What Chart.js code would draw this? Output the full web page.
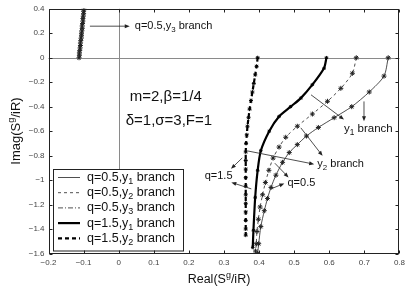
<!DOCTYPE html>
<html><head><meta charset="utf-8">
<script src="https://cdn.jsdelivr.net/npm/chart.js@4"></script>
<style>html,body{margin:0;padding:0;background:#fff}#wrap{width:409px;height:289px}</style>
</head><body><div id="wrap"><canvas id="c" width="409" height="289"></canvas></div>
<script>
// ---- tick labels ----
const xTickValues = [-0.2,-0.1,0,0.1,0.2,0.3,0.4,0.5,0.6,0.7,0.8];
const yTickValues = [-1.6,-1.4,-1.2,-1,-0.8,-0.6,-0.4,-0.2,0,0.2,0.4];

// ---- series ----
const q05y1X = [0.768,0.756,0.714,0.664,0.614,0.569,0.535,0.509,0.486,0.467,0.448,0.434,0.424,0.415,0.405,0.399,0.396];
const q05y1Y = [0,-0.15,-0.28,-0.40,-0.49,-0.57,-0.64,-0.71,-0.775,-0.855,-0.96,-1.06,-1.15,-1.25,-1.38,-1.52,-1.60];

const q05y2X = [0.677,0.666,0.633,0.595,0.552,0.509,0.476,0.457,0.440,0.428,0.418,0.410,0.403,0.398,0.394,0.392,0.390];
const q05y2Y = [0,-0.127,-0.25,-0.356,-0.46,-0.56,-0.65,-0.73,-0.82,-0.92,-1.02,-1.12,-1.22,-1.32,-1.42,-1.52,-1.58];

const q05y3X = [-0.113,-0.112,-0.112,-0.111,-0.110,-0.109,-0.109,-0.108,-0.107,-0.106,-0.106,-0.105,-0.104,-0.104,-0.103,-0.102,-0.102,-0.101,-0.100,-0.100,-0.099];
const q05y3Y = [0,0.02,0.04,0.06,0.08,0.10,0.12,0.14,0.16,0.18,0.20,0.22,0.24,0.26,0.28,0.30,0.32,0.34,0.36,0.38,0.40];

const q15y1X = [0.592,0.585,0.552,0.519,0.490,0.457,0.429,0.405,0.396,0.389,0.384,0.382];
const q15y1Y = [0,-0.086,-0.22,-0.33,-0.40,-0.48,-0.60,-0.76,-0.92,-1.14,-1.41,-1.55];

const q15y2X = [0.396,0.393,0.389,0.385,0.381,0.377,0.373,0.370,0.367,0.365,0.363,0.362,0.362,0.362,0.362,0.362,0.362,0.362,0.362,0.362,0.362,0.362];
const q15y2Y = [0,-0.07,-0.14,-0.21,-0.28,-0.35,-0.42,-0.49,-0.56,-0.63,-0.70,-0.77,-0.84,-0.91,-0.98,-1.05,-1.12,-1.19,-1.26,-1.33,-1.40,-1.45];

// ---- legend labels ("_" = subscript next char) ----
const legendLabels = ['q=0.5,y_1 branch','q=0.5,y_2 branch','q=0.5,y_3 branch','q=1.5,y_1 branch','q=1.5,y_2 branch'];

// ---- annotations (data units) ----
const noteTexts = ['q=0.5,y_3 branch','m=2,β=1/4','δ=1,σ=3,F=1','y_1 branch','y_2 branch','q=0.5','q=1.5'];
const noteX     = [0.046, 0.0315, 0.020, 0.642, 0.566, 0.481, 0.245];
const noteY     = [0.258, -0.317, -0.519, -0.584, -0.867, -1.021, -0.965];
const noteSize  = [11, 15, 15, 11.5, 11, 11, 11];

const arrowX0 = [-0.082, 0.548, 0.699, 0.519, 0.368, 0.445, 0.434, 0.352, 0.378];
const arrowY0 = [ 0.258,-0.303,-0.357,-0.573,-0.762,-0.862,-1.072,-0.819,-1.072];
const arrowX1 = [ 0.0315,0.642, 0.699, 0.581, 0.557, 0.484, 0.472, 0.320, 0.321];
const arrowY1 = [ 0.258,-0.505,-0.519,-0.802,-0.870,-0.978,-1.027,-0.908,-1.019];

const FONT = '"Liberation Sans", Arial, sans-serif';
const pts = (xs, ys) => xs.map((x, i) => ({x, y: ys[i]}));
const fmt = v => { const a = Math.round(Math.abs(v)*10)/10; return (v < -1e-9 ? '\u2212' : '') + a; };

function drawRich(ctx, str, x, y, size, color) {
  // left aligned, y = middle
  let cx = x;
  ctx.fillStyle = color || '#111';
  ctx.textBaseline = 'middle';
  ctx.textAlign = 'left';
  for (let i = 0; i < str.length; i++) {
    let ch = str[i];
    if ((ch === '_' || ch === '^') && i + 1 < str.length) {
      const s = str[i+1]; i++;
      ctx.font = (size*0.72) + 'px ' + FONT;
      const dy = ch === '_' ? size*0.32 : -size*0.38;
      ctx.fillText(s, cx, y + dy);
      cx += ctx.measureText(s).width;
      continue;
    }
    ctx.font = size + 'px ' + FONT;
    ctx.fillText(ch, cx, y);
    cx += ctx.measureText(ch).width;
  }
  return cx - x;
}
function richWidth(ctx, str, size) {
  let w = 0;
  for (let i = 0; i < str.length; i++) {
    let ch = str[i];
    if ((ch === '_' || ch === '^') && i + 1 < str.length) {
      ctx.font = (size*0.72) + 'px ' + FONT; w += ctx.measureText(str[i+1]).width; i++; continue;
    }
    ctx.font = size + 'px ' + FONT; w += ctx.measureText(ch).width;
  }
  return w;
}

const decor = {
  id: 'decor',
  beforeDatasetsDraw(chart) {
    const {ctx, chartArea: a, scales: {x, y}} = chart;
    ctx.save();
    ctx.strokeStyle = '#8a8a8a'; ctx.lineWidth = 1;
    const x0 = Math.round(x.getPixelForValue(0)) + 0.5;
    const y0 = Math.round(y.getPixelForValue(0)) + 0.5;
    ctx.beginPath();
    ctx.moveTo(x0, a.top); ctx.lineTo(x0, a.bottom);
    ctx.moveTo(a.left, y0); ctx.lineTo(a.right, y0);
    ctx.stroke();
    ctx.restore();
  },
  afterDatasetsDraw(chart) {
    const {ctx, chartArea: a, scales: {x, y}} = chart;
    ctx.save();
    // arrows
    ctx.strokeStyle = '#222'; ctx.fillStyle = '#222'; ctx.lineWidth = 0.8;
    for (let i = 0; i < arrowX0.length; i++) {
      const px0 = x.getPixelForValue(arrowX0[i]), py0 = y.getPixelForValue(arrowY0[i]);
      const px1 = x.getPixelForValue(arrowX1[i]), py1 = y.getPixelForValue(arrowY1[i]);
      const ang = Math.atan2(py1 - py0, px1 - px0);
      const L = 5, W = 2;
      ctx.beginPath(); ctx.moveTo(px0, py0);
      ctx.lineTo(px1 - L*Math.cos(ang)*0.8, py1 - L*Math.sin(ang)*0.8); ctx.stroke();
      ctx.beginPath();
      ctx.moveTo(px1, py1);
      ctx.lineTo(px1 - L*Math.cos(ang) + W*Math.sin(ang), py1 - L*Math.sin(ang) - W*Math.cos(ang));
      ctx.lineTo(px1 - L*Math.cos(ang) - W*Math.sin(ang), py1 - L*Math.sin(ang) + W*Math.cos(ang));
      ctx.closePath(); ctx.fill();
    }
    // notes
    for (let i = 0; i < noteTexts.length; i++) {
      drawRich(ctx, noteTexts[i], x.getPixelForValue(noteX[i]), y.getPixelForValue(noteY[i]), noteSize[i], '#111');
    }
    // legend box
    const lx = 53.5, ly = 169.5, lw = 130, lh = 81.5;
    ctx.fillStyle = '#fff'; ctx.fillRect(lx, ly, lw, lh);
    ctx.strokeStyle = '#222'; ctx.lineWidth = 1; ctx.strokeRect(lx, ly, lw, lh);
    chart.data.datasets.forEach((ds, i) => {
      const cy = 177.5 + i*15.2;
      ctx.save();
      ctx.strokeStyle = ds.borderColor; ctx.lineWidth = ds.borderWidth;
      ctx.setLineDash(ds.borderDash || []);
      ctx.beginPath(); ctx.moveTo(58, cy); ctx.lineTo(80, cy); ctx.stroke();
      ctx.restore();
      drawRich(ctx, legendLabels[i], 87, cy, 12.5, '#111');
    });
    // frame
    ctx.strokeStyle = '#222'; ctx.lineWidth = 1;
    const L = Math.round(a.left)+0.5, R = Math.round(a.right)-0.5, T = Math.round(a.top)+0.5, B = Math.round(a.bottom)-0.5;
    ctx.strokeRect(L, T, R - L, B - T);
    // inward ticks
    ctx.beginPath();
    xTickValues.forEach(v => {
      const p = Math.round(x.getPixelForValue(v)) + 0.5;
      ctx.moveTo(p, B); ctx.lineTo(p, B - 3);
      ctx.moveTo(p, T); ctx.lineTo(p, T + 3);
    });
    yTickValues.forEach(v => {
      const p = Math.round(y.getPixelForValue(v)) + 0.5;
      ctx.moveTo(L, p); ctx.lineTo(L + 3, p);
      ctx.moveTo(R, p); ctx.lineTo(R - 3, p);
    });
    ctx.stroke();
    // axis titles
    const xt = 'Real(S^g/iR)';
    const xw = richWidth(ctx, xt, 12.5);
    drawRich(ctx, xt, 219 - xw/2, 280, 12.5, '#111');
    const yt = 'Imag(S^g/iR)';
    const yw = richWidth(ctx, yt, 13);
    ctx.translate(16, 131); ctx.rotate(-Math.PI/2);
    drawRich(ctx, yt, -yw/2, 0, 13, '#111');
    ctx.restore();
  }
};

const tickFont = {family: FONT, size: 8};
new Chart(document.getElementById('c'), {
  type: 'scatter',
  data: {
    datasets: [
      {label: 'q=0.5,y1 branch', data: pts(q05y1X, q05y1Y), showLine: true, borderColor: '#222', backgroundColor: '#222', borderWidth: 0.8, tension: 0.25, pointStyle: 'star', pointRadius: 2.5, pointBorderWidth: 1},
      {label: 'q=0.5,y2 branch', data: pts(q05y2X, q05y2Y), showLine: true, borderColor: '#222', backgroundColor: '#222', borderWidth: 0.8, borderDash: [3,3], tension: 0.25, pointStyle: 'star', pointRadius: 2.5, pointBorderWidth: 1},
      {label: 'q=0.5,y3 branch', data: pts(q05y3X, q05y3Y), showLine: true, borderColor: '#222', backgroundColor: '#222', borderWidth: 0.8, borderDash: [5,2,1,2], tension: 0, pointStyle: 'star', pointRadius: 2.5, pointBorderWidth: 1},
      {label: 'q=1.5,y1 branch', data: pts(q15y1X, q15y1Y), showLine: true, borderColor: '#000', backgroundColor: '#000', borderWidth: 2.2, tension: 0.25, pointStyle: 'star', pointRadius: 1.8, pointBorderWidth: 1},
      {label: 'q=1.5,y2 branch', data: pts(q15y2X, q15y2Y), showLine: true, borderColor: '#000', backgroundColor: '#000', borderWidth: 2.2, borderDash: [4,3], tension: 0.25, pointStyle: 'star', pointRadius: 2, pointBorderWidth: 1}
    ]
  },
  options: {
    responsive: false, animation: false, devicePixelRatio: 1,
    layout: {padding: {top: 6.5, right: 8.5, left: 0, bottom: 0}},
    plugins: {legend: {display: false}, tooltip: {enabled: false}},
    scales: {
      x: {
        type: 'linear', min: -0.2, max: 0.8,
        afterBuildTicks: s => { s.ticks = xTickValues.map(v => ({value: v})); },
        afterFit: s => { s.height = 35.5; },
        grid: {display: false, drawTicks: false}, border: {display: false},
        ticks: {font: tickFont, color: '#444', padding: 4, maxRotation: 0, autoSkip: false, callback: v => fmt(v)}
      },
      y: {
        type: 'linear', min: -1.6, max: 0.4,
        afterBuildTicks: s => { s.ticks = yTickValues.map(v => ({value: v})); },
        afterFit: s => { s.width = 48.5; },
        grid: {display: false, drawTicks: false}, border: {display: false},
        ticks: {font: tickFont, color: '#444', padding: 4, autoSkip: false, callback: v => fmt(v)}
      }
    }
  },
  plugins: [decor]
});
</script>
</body></html>
